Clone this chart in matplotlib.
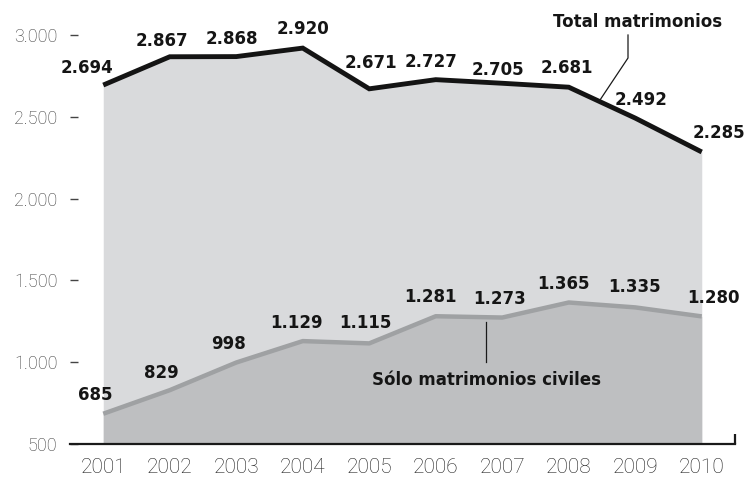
import matplotlib
matplotlib.use("Agg")
import matplotlib.pyplot as plt
from matplotlib.ticker import FixedLocator

years = [2001, 2002, 2003, 2004, 2005, 2006, 2007, 2008, 2009, 2010]
total = [2694, 2867, 2868, 2920, 2671, 2727, 2705, 2681, 2492, 2285]
civil = [685, 829, 998, 1129, 1115, 1281, 1273, 1365, 1335, 1280]
yticks = [500, 1000, 1500, 2000, 2500, 3000]
ytick_labels = ["500", "1.000", "1.500", "2.000", "2.500", "3.000"]

def fmt(v):
    return f"{v:,}".replace(",", ".")

# label offsets in pixels (dx, dy) relative to each point
total_off = [(-16, 17), (-8, 16), (-4, 18), (0, 19), (2, 26), (-5, 18), (-4, 13), (-2, 19), (6, 18), (17, 19)]
civil_off = [(-8, 19), (-8, 17), (-8, 19), (-6, 18), (-4, 20), (-5, 19), (-3, 19), (-5, 18), (-1, 20), (12, 18)]

W, H = 745, 479
fig = plt.figure(figsize=(W / 100, H / 100), dpi=100)
ax = fig.add_axes([70 / W, 35 / H, 665 / W, 444 / H])

c_top = "#d9dadc"
c_bot = "#bebfc1"
c_civ = "#9fa1a3"
c_txt = "#151515"

ax.fill_between(years, 500, total, color=c_top, lw=0, zorder=1)
ax.fill_between(years, 500, civil, color=c_bot, lw=0, zorder=2)
ax.plot(years, civil, color=c_civ, lw=3.2, zorder=3, solid_capstyle="butt")
ax.plot(years, total, color="#141414", lw=3.5, zorder=4, solid_capstyle="butt",
        solid_joinstyle="miter")

ax.set_xlim(2000.5, 2010.5)
ax.set_ylim(500, 3000 + 35 / 81.8 * 500)

for s in ["left", "right", "top"]:
    ax.spines[s].set_visible(False)
ax.spines["bottom"].set_linewidth(1.6)
ax.spines["bottom"].set_color("#1a1a1a")
ax.spines["bottom"].set_zorder(5)

ax.set_yticks(yticks)
ax.set_yticklabels(ytick_labels)
ax.tick_params(axis="y", direction="in", length=6, width=1, color="#444444",
               pad=9, labelsize=13, labelcolor="#3a3a3a")
for lab in ax.get_yticklabels():
    lab.set_family(["Roboto", "DejaVu Sans"])
    lab.set_fontweight("light")

ax.set_xticks(years)
ax.set_xticklabels([str(y) for y in years])
ax.tick_params(axis="x", which="major", length=0, pad=10, labelsize=15, labelcolor="#1e1e1e")
for lab in ax.get_xticklabels():
    lab.set_family(["Roboto", "DejaVu Sans"])
    lab.set_fontweight("light")
ax.xaxis.set_minor_locator(FixedLocator([y + 0.5 for y in years]))
ax.tick_params(axis="x", which="minor", direction="in", length=7.5, width=1.6, color="#1a1a1a")

for x, v, (dx, dy) in zip(years, total, total_off):
    ax.annotate(fmt(v), (x, v), xytext=(dx, dy), textcoords="offset pixels",
                ha="center", va="center", fontsize=12, fontweight="bold",
                color=c_txt, family="DejaVu Sans", zorder=6)
for x, v, (dx, dy) in zip(years, civil, civil_off):
    ax.annotate(fmt(v), (x, v), xytext=(dx, dy), textcoords="offset pixels",
                ha="center", va="center", fontsize=12, fontweight="bold",
                color=c_txt, family="DejaVu Sans", zorder=6)

# series labels with leader lines (pixel -> data conversion)
def px2data(px, py):
    return (2000.5 + (px - 70) / 66.5, 500 + (444 - py) / 81.8 * 500)

tx, ty = px2data(638, 22)
ax.text(tx, ty, "Total matrimonios", ha="center", va="center", fontsize=12,
        fontweight="bold", color=c_txt, zorder=6)
p1, p2, p3 = px2data(628, 35), px2data(628, 58), px2data(600, 100)
ax.plot([p1[0], p2[0], p3[0]], [p1[1], p2[1], p3[1]], color="#1a1a1a", lw=0.9, zorder=6)

sx, sy = px2data(487, 380)
ax.text(sx, sy, "Sólo matrimonios civiles", ha="center", va="center", fontsize=12,
        fontweight="bold", color=c_txt, zorder=6)
q1, q2 = px2data(486, 322), px2data(486, 362)
ax.plot([q1[0], q2[0]], [q1[1], q2[1]], color="#1a1a1a", lw=0.9, zorder=6)

fig.savefig("out.png", dpi=100)
